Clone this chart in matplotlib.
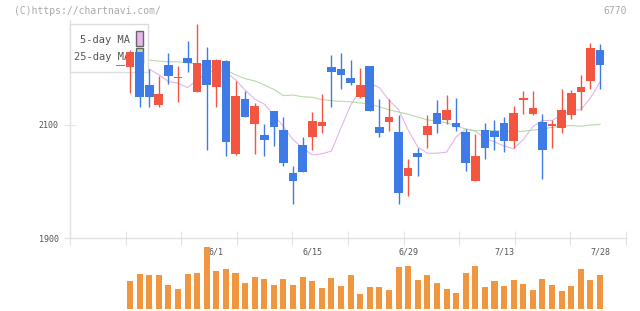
import matplotlib
matplotlib.use('Agg')
import matplotlib.pyplot as plt
from matplotlib.patches import Rectangle
from matplotlib.transforms import IdentityTransform
import numpy as np

W, H = 640, 311

# daily prices (index -1 is a no-volume doji at the left edge)
opens = [2204, 2203, 2229, 2171, 2136, 2206, 2183, 2219, 2159, 2215, 2168,
         2213, 2049, 2146, 2102, 2082, 2125, 2091, 2015, 2065, 2078, 2099,
         2203, 2199, 2183, 2150, 2204, 2097, 2106, 2088, 2010, 2050, 2083,
         2121, 2108, 2104, 2088, 2001, 2091, 2089, 2104, 2072, 2145, 2120,
         2105, 2099, 2095, 2117, 2159, 2177, 2233]
highs = [2204, 2233, 2229, 2199, 2187, 2227, 2204, 2249, 2279, 2238, 2217,
         2215, 2178, 2160, 2139, 2102, 2125, 2115, 2027, 2079, 2123, 2155,
         2224, 2227, 2215, 2201, 2204, 2146, 2146, 2118, 2040, 2059, 2118,
         2144, 2153, 2148, 2093, 2084, 2104, 2109, 2114, 2134, 2160, 2160,
         2120, 2109, 2164, 2162, 2189, 2245, 2243]
lows = [2204, 2157, 2131, 2131, 2131, 2173, 2141, 2194, 2159, 2055, 2132,
        2046, 2047, 2115, 2049, 2046, 2062, 2028, 1961, 2016, 2056, 2086,
        2131, 2163, 2170, 2147, 2124, 2078, 2090, 1961, 1975, 2010, 2060,
        2085, 2101, 2090, 2019, 2001, 2039, 2055, 2053, 2060, 2120, 2117,
        2005, 2060, 2085, 2111, 2127, 2163, 2163]
closes = [2204, 2229, 2150, 2150, 2155, 2186, 2185, 2209, 2210, 2170, 2215,
          2070, 2151, 2115, 2134, 2074, 2097, 2033, 2001, 2016, 2107, 2105,
          2194, 2189, 2175, 2171, 2124, 2086, 2114, 1980, 2024, 2044, 2098,
          2101, 2127, 2097, 2032, 2045, 2060, 2079, 2072, 2121, 2148, 2130,
          2056, 2102, 2127, 2157, 2167, 2236, 2207]
volumes = [0, 28, 35, 34, 34, 24, 20, 35, 36, 62, 38, 40, 36, 26, 32, 30,
           24, 30, 24, 32, 28, 21, 31, 23, 34, 15, 22, 22, 19, 42, 43, 29,
           34, 26, 20, 16, 36, 43, 22, 28, 23, 29, 25, 19, 30, 24, 18, 23,
           40, 29, 34]
ma5 = [None, 2210, 2204, 2199, 2189, 2177, 2174, 2166, 2180, 2192, 2197,
       2194, 2180, 2162, 2146, 2137, 2118, 2097, 2074, 2059, 2047, 2049,
       2054, 2095, 2135, 2162, 2174, 2166, 2144, 2127, 2091, 2061, 2050,
       2050, 2052, 2079, 2093, 2089, 2077, 2070, 2063, 2058, 2074, 2097,
       2108, 2108, 2118, 2126, 2127, 2148, 2176]
ma25 = [None, 2217, 2216, 2215, 2213, 2212, 2212, 2210, 2208, 2205, 2202,
        2197, 2189, 2182, 2178, 2171, 2163, 2152, 2153, 2150, 2149, 2145,
        2143, 2142, 2141, 2139, 2137, 2132, 2127, 2123, 2119, 2114, 2109,
        2107, 2104, 2098, 2093, 2090, 2090, 2090, 2089, 2088, 2089, 2091,
        2093, 2096, 2098, 2099, 2098, 2100, 2101]

date_idx = [9, 19, 29, 39, 49]
date_labels = ['6/1', '6/15', '6/29', '7/13', '7/28']

x = np.arange(len(opens)) - 1
o = np.array(opens, float)
c = np.array(closes, float)
up = c >= o
up_col, dn_col = '#f25540', '#3e7be6'
cols = [up_col if u else dn_col for u in up]

mono = 'DejaVu Sans Mono'
grid_col = '#e2e2e2'

fig = plt.figure(figsize=(W / 100, H / 100), dpi=100)

# price panel
ax = fig.add_axes([70 / W, (H - 238) / H, (626 - 70) / W, (238 - 20) / H])
xmin, xmax = (70 - 130) / 9.592, (626 - 130) / 9.592
ax.set_xlim(xmin, xmax)
ax.set_ylim(1900, 1900 + 218 * 200 / 113)

ax.plot(x, [np.nan if v is None else v for v in ma5], color='#e6b3ec', lw=0.8, zorder=2)
ax.plot(x, [np.nan if v is None else v for v in ma25], color='#b6dca6', lw=0.8, zorder=2)

ax.vlines(x, lows, highs, colors=cols, lw=1.0, zorder=5)
bottoms = np.minimum(o, c)
heights = np.maximum(np.abs(c - o), 2.5)
ax.bar(x, heights, bottom=bottoms, width=0.9, color=cols, zorder=6)

for s in ['top', 'right']:
    ax.spines[s].set_visible(False)
for s in ['left', 'bottom']:
    ax.spines[s].set_color(grid_col)
    ax.spines[s].set_linewidth(1)
ax.set_yticks([1900, 2100])
ax.set_yticklabels(['1900', '2100'], fontsize=6, family=mono, color='#555')
ax.set_xticks(np.linspace(xmin, xmax, 11))
ax.set_xticklabels([])
ax.tick_params(axis='y', direction='inout', length=8, color=grid_col, pad=4)
ax.tick_params(axis='x', direction='inout', length=10, color=grid_col)

# legend box drawn in pixel coordinates
it = IdentityTransform()
ax.add_patch(Rectangle((70, H - 72), 78, 48, transform=it, facecolor='white',
                       edgecolor='#dcdcdc', lw=1, zorder=3, clip_on=False))
ax.add_patch(Rectangle((136, H - 46), 7, 15, transform=it, facecolor='#e8b8ec',
                       edgecolor='#666', lw=1, zorder=3.5, clip_on=False))
ax.add_patch(Rectangle((136, H - 63), 7, 15, transform=it, facecolor='#b8dca8',
                       edgecolor='#666', lw=1, zorder=3.5, clip_on=False))
ax.text(130, H - 40, '5-day MA', transform=it, ha='right', va='center',
        fontsize=7.5, family=mono, color='#555', zorder=3.5)
ax.text(130, H - 57, '25-day MA', transform=it, ha='right', va='center',
        fontsize=7.5, family=mono, color='#555', zorder=3.5)

# volume panel
axv = fig.add_axes([70 / W, (H - 309) / H, (626 - 70) / W, 64 / H])
axv.set_xlim(xmin, xmax)
axv.set_ylim(0, 64)
axv.bar(x, volumes, width=0.63, color='#f0963e', zorder=3)
axv.axis('off')
for i, lab in zip(date_idx, date_labels):
    axv.text(i, 57, lab, ha='center', va='center', fontsize=6, family=mono,
             color='#555', zorder=1, clip_on=False)

fig.text(14 / W, 1 - 11 / H, '(C)https://chartnavi.com/', fontsize=7, family=mono,
         color='#aaa', va='center')
fig.text(627 / W, 1 - 11 / H, '6770', fontsize=7, family=mono, color='#aaa',
         va='center', ha='right')

fig.savefig('out.png', dpi=100)
